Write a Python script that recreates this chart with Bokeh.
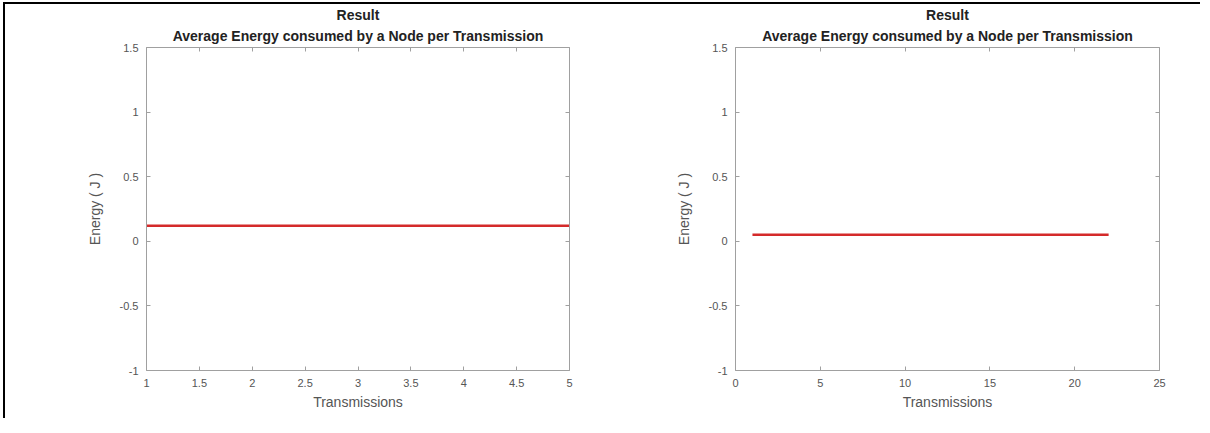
from bokeh.plotting import figure
from bokeh.models import Range1d, LinearAxis, FixedTicker, Title, CustomJSTickFormatter
from bokeh.layouts import row
from bokeh.embed import file_html
from bokeh.resources import INLINE

# data
left_x = [1, 2, 3, 4, 5]
left_y = [0.12, 0.12, 0.12, 0.12, 0.12]
right_x = list(range(1, 23))
right_y = [0.05] * 22

y_ticks = [-1, -0.5, 0, 0.5, 1, 1.5]
left_x_ticks = [1, 1.5, 2, 2.5, 3, 3.5, 4, 4.5, 5]
right_x_ticks = [0, 5, 10, 15, 20, 25]

title1 = "Result"
title2 = "Average Energy consumed by a Node per Transmission"
xlabel = "Transmissions"
ylabel = "Energy ( J )"

FONT = "Liberation Sans"
AXC = "#a0a0a0"
LBC = "#555555"


def blank_fmt():
    return CustomJSTickFormatter(code="return '';")


def make(xs, ys, xr, xticks, width, bl, br):
    p = figure(width=width, height=416, output_backend="svg", toolbar_location=None,
               x_range=Range1d(*xr), y_range=Range1d(-1, 1.5),
               min_border_left=bl, min_border_right=br, min_border_top=42, min_border_bottom=50)
    p.title = None
    p.outline_line_color = None
    p.grid.visible = False
    p.xaxis.ticker = FixedTicker(ticks=xticks)
    p.yaxis.ticker = FixedTicker(ticks=y_ticks)
    p.xaxis.formatter = CustomJSTickFormatter(code="return String(tick);")
    p.yaxis.formatter = CustomJSTickFormatter(code="return String(tick);")
    for ax in (p.xaxis[0], p.yaxis[0]):
        ax.axis_line_color = AXC
        ax.major_tick_line_color = AXC
        ax.major_tick_in = 4
        ax.major_tick_out = 0
        ax.minor_tick_line_color = None
        ax.major_label_text_font = FONT
        ax.major_label_text_font_size = "11px"
        ax.major_label_text_color = LBC
        ax.axis_label_text_font = FONT
        ax.axis_label_text_font_size = "14px"
        ax.axis_label_text_font_style = "normal"
        ax.axis_label_text_color = LBC
    p.xaxis.axis_label = xlabel
    p.yaxis.axis_label = ylabel
    p.xaxis.major_label_standoff = 8
    p.xaxis.axis_label_standoff = 4
    p.yaxis.major_label_standoff = 8
    p.yaxis.axis_label_standoff = 14
    # box axes (top/right), no labels
    top = LinearAxis(ticker=FixedTicker(ticks=xticks), formatter=blank_fmt(),
                     axis_line_color=AXC, major_tick_line_color=AXC, major_tick_in=4,
                     major_tick_out=0, minor_tick_line_color=None, major_label_standoff=0)
    rgt = LinearAxis(ticker=FixedTicker(ticks=y_ticks), formatter=blank_fmt(),
                     axis_line_color=AXC, major_tick_line_color=AXC, major_tick_in=4,
                     major_tick_out=0, minor_tick_line_color=None, major_label_standoff=0)
    p.add_layout(top, "above")
    p.add_layout(rgt, "right")
    p.add_layout(Title(text=title2, align="center", text_font=FONT, text_font_size="14px",
                       text_font_style="bold", text_color="#222222", standoff=7), "above")
    p.add_layout(Title(text=title1, align="center", text_font=FONT, text_font_size="14px",
                       text_font_style="bold", text_color="#222222", standoff=0), "above")
    p.line(xs, ys, line_color="#d42a2a", line_width=2.5)
    return p


p1 = make(left_x, left_y, (1, 5), left_x_ticks, 592, 141, 28)
p2 = make(right_x, right_y, (0, 25), right_x_ticks, 605, 140, 41)

# document table frame lines around the charts
p1.styles = {"border-left": "2px solid black", "border-top": "2px solid black",
             "margin-left": "3px", "margin-top": "2px"}
p2.styles = {"border-top": "2px solid black", "margin-top": "2px"}

layout = row(p1, p2)
open("out.html", "w").write(file_html(layout, INLINE))
